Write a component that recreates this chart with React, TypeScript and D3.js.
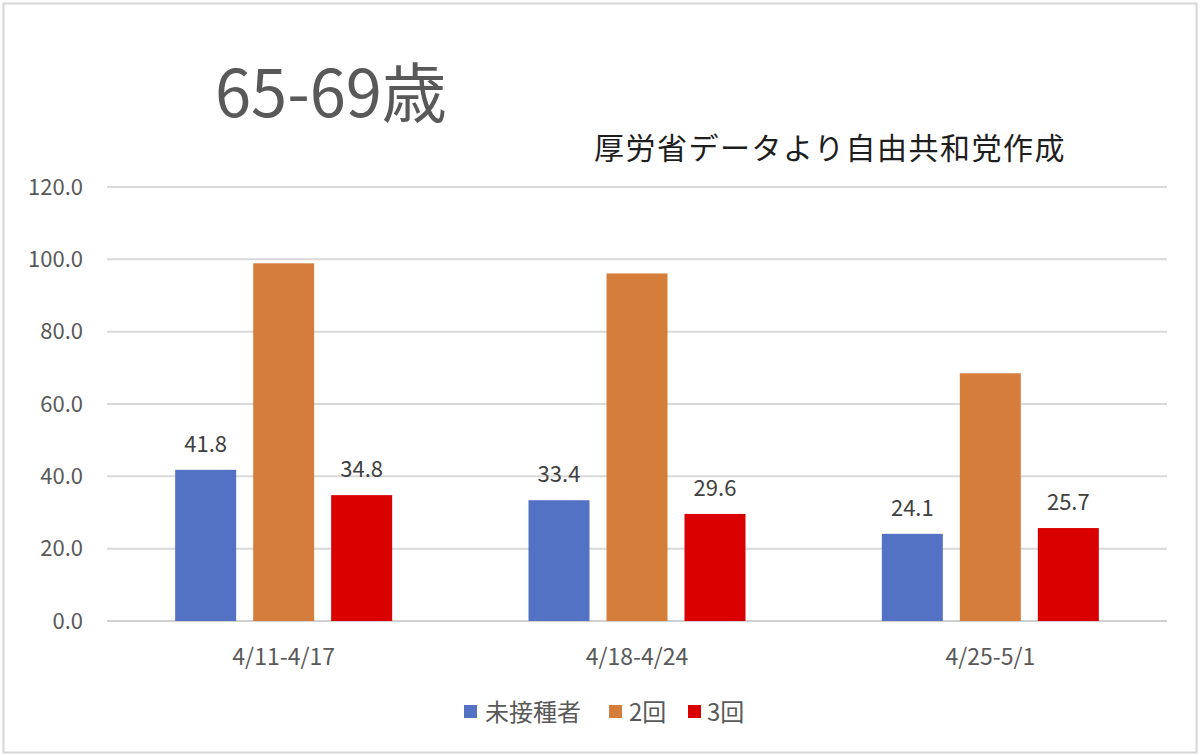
import React from "react";
import * as d3 from "d3";

const categories = ["4/11-4/17", "4/18-4/24", "4/25-5/1"];
const seriesNames = ["未接種者", "2回", "3回"];
const unvaccinated = [41.8, 33.4, 24.1];
const twoDoses = [98.9, 96.1, 68.5];
const threeDoses = [34.8, 29.6, 25.7];
const labeledSeries = [true, false, true];
const yTicks = [0, 20, 40, 60, 80, 100, 120];
const colors = ["#5472C4", "#D57D3A", "#DA0000"];
const title = "65-69歳";
const subtitle = "厚労省データより自由共和党作成";

const W = 1200;
const H = 755;
const FONT = "'Noto Sans CJK JP', 'Noto Sans', sans-serif";

export default function App() {
  const values = [unvaccinated, twoDoses, threeDoses];
  const x0 = d3.scaleBand<string>().domain(categories).range([107, 1167]).padding(0);
  const x1 = d3
    .scaleBand<string>()
    .domain(seriesNames)
    .range([0, x0.bandwidth()])
    .paddingInner(0.218)
    .paddingOuter(0.874);
  const y = d3.scaleLinear().domain([0, 120]).range([621, 187]);

  const legendItems = [
    { name: seriesNames[0], sx: 464, tx: 485 },
    { name: seriesNames[1], sx: 609, tx: 629 },
    { name: seriesNames[2], sx: 688, tx: 707 },
  ];

  return (
    <div style={{ position: "fixed", left: 0, top: 0, width: W, height: H, background: "#fff" }}>
      <svg width={W} height={H} style={{ display: "block", fontFamily: FONT }}>
        <rect x={0} y={0} width={W} height={H} fill="#ffffff" />
        <rect x={3.5} y={3.5} width={1193} height={749} fill="none" stroke="#d6d6d6" strokeWidth={2} />
        <text x={215} y={117} fontSize={65} fill="#595959">
          {title}
        </text>
        <text x={594} y={159} fontSize={30} fill="#1e1e1e" letterSpacing={1.5}>
          {subtitle}
        </text>
        {yTicks.map((t) => (
          <g key={t}>
            <line
              x1={107}
              x2={1167}
              y1={y(t)}
              y2={y(t)}
              stroke={t === 0 ? "#d0d0d0" : "#d9d9d9"}
              strokeWidth={2}
            />
            <text
              x={83}
              y={y(t)}
              dy="0.35em"
              textAnchor="end"
              fontSize={22}
              fill="#595959"
            >
              {d3.format(".1f")(t)}
            </text>
          </g>
        ))}
        {categories.map((c, ci) => (
          <g key={c} transform={`translate(${x0(c)},0)`}>
            {seriesNames.map((s, si) => {
              const v = values[si][ci];
              const bx = x1(s) as number;
              return (
                <g key={s}>
                  <rect
                    x={bx}
                    y={y(v)}
                    width={x1.bandwidth()}
                    height={y(0) - y(v)}
                    fill={colors[si]}
                  />
                  {labeledSeries[si] && (
                    <text
                      x={bx + x1.bandwidth() / 2}
                      y={y(v) - 18}
                      textAnchor="middle"
                      fontSize={22}
                      fill="#404040"
                    >
                      {d3.format(".1f")(v)}
                    </text>
                  )}
                </g>
              );
            })}
            <text
              x={x0.bandwidth() / 2}
              y={665}
              textAnchor="middle"
              fontSize={23}
              fill="#595959"
            >
              {c}
            </text>
          </g>
        ))}
        {legendItems.map((it, i) => (
          <g key={it.name}>
            <rect x={it.sx} y={705} width={13} height={13} fill={colors[i]} />
            <text x={it.tx} y={721} fontSize={24} fill="#595959">
              {it.name}
            </text>
          </g>
        ))}
      </svg>
    </div>
  );
}
